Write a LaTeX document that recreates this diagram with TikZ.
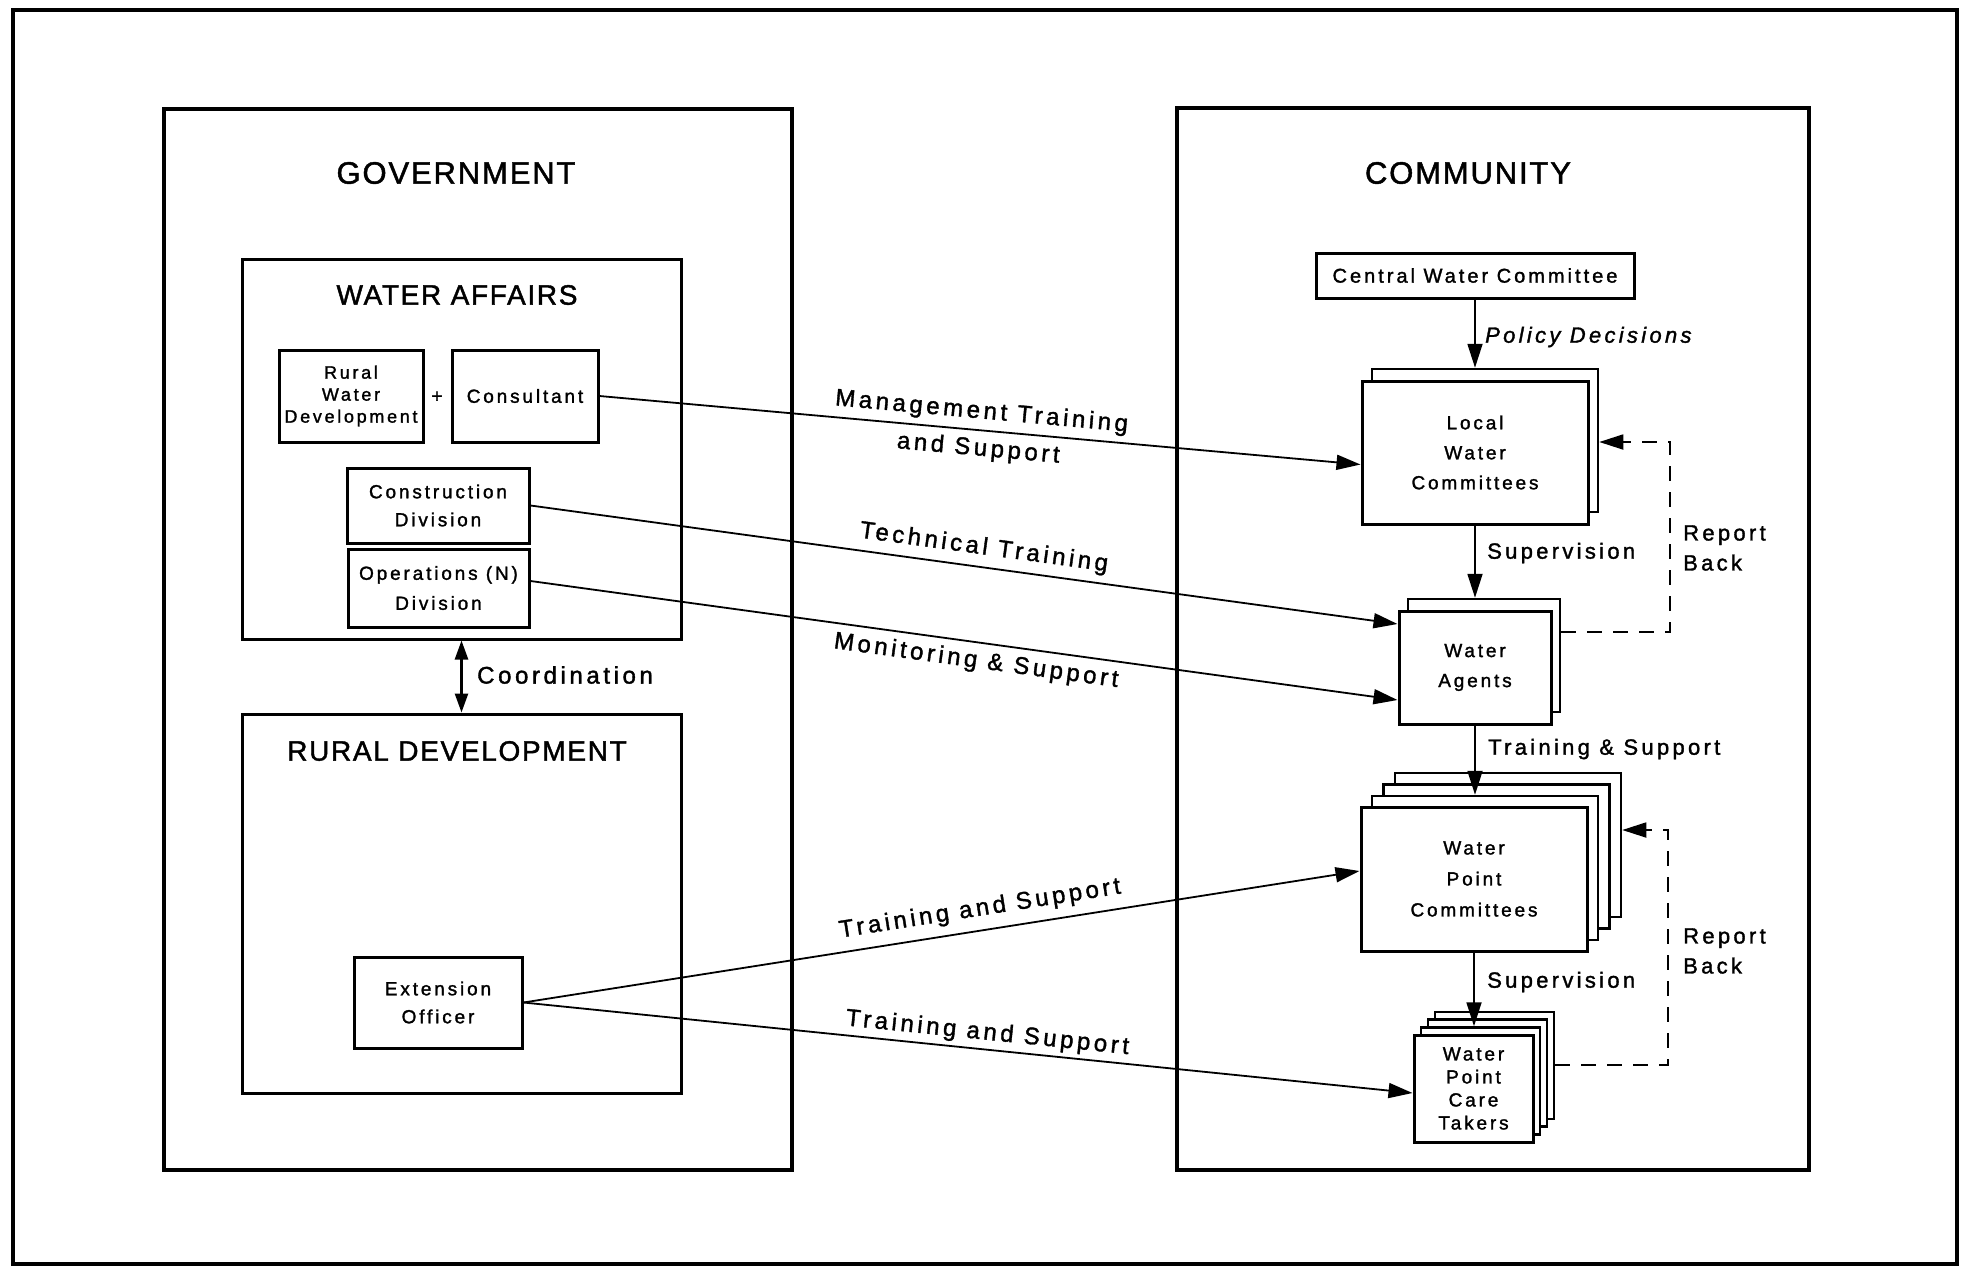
\documentclass[tikz,border=0pt]{standalone}
\usepackage{fontspec}
\setmainfont{Liberation Sans}
\newfontfamily\labfont[LetterSpace=15,FakeBold=1.5]{Liberation Sans}
\newfontfamily\ttlfont[LetterSpace=6,FakeBold=1.5]{Liberation Sans}
\usetikzlibrary{arrows.meta}
\begin{document}
\begin{tikzpicture}[x=1pt,y=-1pt,
  frame/.style={draw, line width=4.5pt, inner sep=0pt},
  bigbox/.style={draw, line width=3.4pt, inner sep=0pt},
  grpbox/.style={draw, line width=3pt, inner sep=0pt},
  box/.style={draw, line width=3pt, fill=white, inner sep=0pt, align=center, font=\labfont\fontsize{19}{30}\selectfont},
  layer/.style={draw, line width=2.5pt, fill=white, inner sep=0pt},
  title/.style={inner sep=0pt, font=\ttlfont\fontsize{31}{36}\selectfont},
  subtitle/.style={inner sep=0pt, font=\ttlfont\fontsize{28}{32}\selectfont},
  lbl/.style={inner sep=1pt, font=\labfont\fontsize{24}{28}\selectfont},
  slbl/.style={inner sep=0pt, anchor=west, align=left, font=\labfont\fontsize{22}{30}\selectfont},
  conn/.style={line width=1.8pt, -{Triangle[length=24pt,width=15pt]}},
  dashline/.style={line width=1.8pt, dash pattern=on 15pt off 11pt, -{Triangle[length=24pt,width=15pt]}},
  coordarrow/.style={line width=2.6pt, {Triangle[length=19pt,width=13pt]}-{Triangle[length=19pt,width=13pt]}}
]
\useasboundingbox (0,0) rectangle (1968,1266);

% frames
\node[frame, minimum width=1944, minimum height=1254] (frame) at (985,637) {};
\node[bigbox, minimum width=628, minimum height=1061] (gov) at (478,639.5) {};
\node[bigbox, minimum width=632, minimum height=1062] (com) at (1493,639) {};
\node[title] (govt) at (456,173) {GOVERNMENT};
\node[title] (comt) at (1468,173) {COMMUNITY};

% government side
\node[grpbox, minimum width=439, minimum height=380] (waff) at (461.5,449) {};
\node[subtitle] (wafft) at (457,295) {WATER AFFAIRS};
\node[grpbox, minimum width=439, minimum height=379] (rd) at (461.5,903.5) {};
\node[subtitle] (rdt) at (457,751) {RURAL DEVELOPMENT};

\node[box, minimum width=144, minimum height=92, font=\labfont\fontsize{18}{22}\selectfont] (rwd) at (351,396) {Rural\\Water\\Development};
\node[inner sep=0pt, font=\labfont\fontsize{19}{22}\selectfont] (plus) at (437,397) {+};
\node[box, minimum width=146, minimum height=92] (cons) at (525,396) {Consultant};
\node[box, minimum width=182, minimum height=75, font=\labfont\fontsize{19}{28}\selectfont] (cd) at (438,505.5) {Construction\\Division};
\node[box, minimum width=181, minimum height=78] (od) at (438.5,588) {Operations (N)\\Division};
\node[box, minimum width=168, minimum height=91, font=\labfont\fontsize{19}{28}\selectfont] (eo) at (438,1002.5) {Extension\\Officer};

\draw[coordarrow] (waff.south) -- (rd.north);
\node[lbl, anchor=west] (coordt) at (476,675) {Coordination};

% community side
\node[box, minimum width=318, minimum height=45, font=\labfont\fontsize{20}{24}\selectfont] (cwc) at (1475,275.5) {Central Water Committee};

\node[layer, minimum width=226, minimum height=143] (lwcb) at (1485,440.5) {};
\node[box, minimum width=226, minimum height=143] (lwc) at (1475,452.5) {Local\\Water\\Committees};

\node[layer, minimum width=152, minimum height=113] (agb) at (1484,655.5) {};
\node[box, minimum width=152, minimum height=113] (ag) at (1475,667.5) {Water\\Agents};

\node[layer, minimum width=226, minimum height=144] (wpc3) at (1508,845) {};
\node[layer, minimum width=226, minimum height=144] (wpc2) at (1496.5,856.5) {};
\node[layer, minimum width=226, minimum height=144] (wpc1) at (1485,868) {};
\node[box, minimum width=226, minimum height=144, font=\labfont\fontsize{19}{31}\selectfont] (wpc) at (1474,879) {Water\\Point\\Committees};

\node[layer, minimum width=119, minimum height=107] (wpct3) at (1494.5,1065.5) {};
\node[layer, minimum width=119, minimum height=107] (wpct2) at (1487.5,1073) {};
\node[layer, minimum width=119, minimum height=107] (wpct1) at (1480.5,1081) {};
\node[box, minimum width=119, minimum height=107, font=\labfont\fontsize{19}{23}\selectfont] (wpct) at (1473.5,1088.5) {Water\\Point\\Care\\Takers};

% vertical arrows
\draw[conn] (cwc.south) -- (cwc.south |- lwcb.north);
\draw[conn] (lwc.south) -- (lwc.south |- agb.north);
\draw[conn] (ag.south) -- (ag.south |- wpc1.north);
\draw[conn] (wpc.south) -- (wpc.south |- wpct1.north);

\node[slbl] (pd) at (1485,337) {\itshape Policy Decisions};
\node[slbl] (sup1) at (1487,553) {Supervision};
\node[slbl] (ts) at (1488,749) {Training \& Support};
\node[slbl] (sup2) at (1487,982) {Supervision};
\node[slbl] (rb1) at (1683,548) {Report\\Back};
\node[slbl] (rb2) at (1683,951) {Report\\Back};

% report back dashed
\coordinate (d1a) at (1670,632);
\coordinate (d1b) at (1670,442);
\draw[dashline] ([yshift=23.5pt]agb.east) -- (d1a) -- (d1b) -- (lwcb.east |- d1b);
\coordinate (d2a) at (1668,1065);
\coordinate (d2b) at (1668,830);
\draw[dashline] (wpct3.east |- d2a) -- (d2a) -- (d2b) -- (wpc3.east |- d2b);

% long connectors
\draw[conn] (cons.east) -- ([yshift=-12pt]lwc.west)
  node[lbl, pos=.5, sloped, above=5pt] (l1a) {Management Training}
  node[lbl, pos=.5, sloped, below=6pt] (l1b) {and Support};
\draw[conn] (cd.east) -- ([yshift=43.5pt]ag.west)
  node[lbl, pos=.52, sloped, above=6pt] (l2) {Technical Training};
\draw[conn] ([yshift=7pt]od.east) -- ([yshift=-32.5pt]ag.west)
  node[lbl, pos=.517, sloped, below=6pt] (l3) {Monitoring \& Support};
\draw[conn] (eo.east) -- ([yshift=8pt]wpc.west)
  node[lbl, pos=.55, sloped, above=8pt] (l4) {Training and Support};
\draw[conn] (eo.east) -- ([yshift=-4.5pt]wpct.west)
  node[lbl, pos=.52, sloped, above=3pt] (l5) {Training and Support};
\end{tikzpicture}
\end{document}
